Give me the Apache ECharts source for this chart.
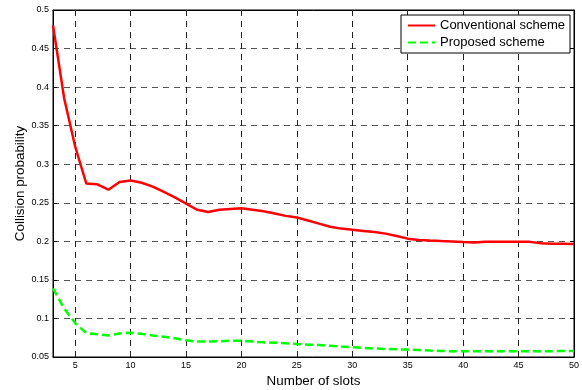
<!DOCTYPE html>
<html>
<head>
<meta charset="utf-8">
<script src="https://cdn.jsdelivr.net/npm/echarts@6/dist/echarts.min.js"></script>
<style>html,body{margin:0;padding:0;background:#fff}#c{width:582px;height:390px}</style>
</head>
<body>
<div id="c"></div>
<script>
const slots = [3,4,5,6,7,8,9,10,11,12,13,14,15,16,17,18,19,20,21,22,23,24,25,26,27,28,29,30,31,32,33,34,35,36,37,38,39,40,41,42,43,44,45,46,47,48,49,50];
const conventional = [0.480,0.386,0.323,0.275,0.274,0.267,0.277,0.279,0.276,0.271,0.264,0.257,0.249,0.241,0.238,0.241,0.242,0.243,0.241,0.239,0.236,0.233,0.231,0.227,0.223,0.219,0.2165,0.215,0.2135,0.212,0.210,0.207,0.2035,0.2018,0.201,0.2003,0.1997,0.199,0.1985,0.1995,0.1995,0.1995,0.1995,0.1993,0.1975,0.197,0.197,0.1965];
const proposed = [0.139,0.113,0.094,0.081,0.0795,0.078,0.0805,0.0815,0.080,0.078,0.0763,0.0744,0.0716,0.070,0.070,0.0705,0.071,0.071,0.070,0.069,0.0685,0.0677,0.067,0.066,0.0655,0.0645,0.0635,0.0626,0.0618,0.061,0.0605,0.060,0.0596,0.059,0.0583,0.0578,0.0575,0.0574,0.0574,0.0574,0.0574,0.0574,0.0574,0.0574,0.0575,0.0576,0.0577,0.0577];
const xTicks = [5,10,15,20,25,30,35,40,45,50];
const seriesNames = ['Conventional scheme','Proposed scheme'];
const xLabel = 'Number of slots';
const yLabel = 'Collision probability';

const font = 'Liberation Sans, Arial, sans-serif';
const chart = echarts.init(document.getElementById('c'), null, {renderer:'canvas'});
const hGridStyle = {color:'#555', type:[6,5], width:1};
const vGridStyle = {color:'#222', type:[6,5], width:1};
chart.setOption({
  animation:false,
  backgroundColor:'#fff',
  grid:{left:53, top:10, right:8, bottom:33, outerBoundsMode:'none', containLabel:false,
        show:true, borderColor:'#000', borderWidth:1, backgroundColor:'transparent'},
  legend:{
    orient:'vertical', left:401, top:15,
    data:seriesNames,
    itemWidth:27, itemHeight:14, itemGap:4,
    padding:[4,5,4,6],
    itemStyle:{opacity:0},
    borderColor:'#000', borderWidth:1, backgroundColor:'#fff',
    textStyle:{fontFamily:font, fontSize:13, color:'#000'}
  },
  xAxis:[{
    type:'value', min:3, max:50,
    name:xLabel, nameLocation:'middle', nameGap:18, nameMoveOverlap:false,
    nameTextStyle:{fontFamily:font, fontSize:13.4, color:'#000'},
    axisLine:{show:true, lineStyle:{color:'#000', width:1}},
    axisTick:{show:true, inside:true, length:4, lineStyle:{color:'#000'}, customValues:xTicks},
    axisLabel:{fontFamily:font, fontSize:9, color:'#000', margin:4, customValues:xTicks},
    splitLine:{show:false}
  },{
    type:'value', min:3, max:50, position:'top',
    axisLine:{show:true, lineStyle:{color:'#000', width:1}},
    axisTick:{show:true, inside:true, length:4, lineStyle:{color:'#000'}, customValues:xTicks},
    axisLabel:{show:false}, splitLine:{show:false}
  }],
  yAxis:[{
    type:'value', min:0.05, max:0.5, interval:0.05,
    name:yLabel, nameLocation:'middle', nameGap:26, nameMoveOverlap:false,
    nameTextStyle:{fontFamily:font, fontSize:13.4, color:'#000'},
    axisLine:{show:true, lineStyle:{color:'#000', width:1}},
    axisTick:{show:true, inside:true, length:4, lineStyle:{color:'#000'}},
    axisLabel:{fontFamily:font, fontSize:9, color:'#000', margin:4,
      formatter:v=>String(Math.round(v*100)/100)},
    splitLine:{show:true, lineStyle:hGridStyle}
  },{
    type:'value', min:0.05, max:0.5, interval:0.05, position:'right',
    axisLine:{show:true, lineStyle:{color:'#000', width:1}},
    axisTick:{show:true, inside:true, length:4, lineStyle:{color:'#000'}},
    axisLabel:{show:false}, splitLine:{show:false}
  }],
  series:[{
    name:seriesNames[0], type:'line', symbol:'none', smooth:false, z:3,
    data:slots.map((s,i)=>[s,conventional[i]]),
    lineStyle:{color:'#ff0000', width:2.5}, itemStyle:{color:'#ff0000'},
    markLine:{
      silent:true, symbol:['none','none'], label:{show:false},
      lineStyle:vGridStyle, z:1,
      data:xTicks.slice(0,-1).map(v=>({xAxis:v}))
    }
  },{
    name:seriesNames[1], type:'line', symbol:'none', smooth:false, z:3,
    data:slots.map((s,i)=>[s,proposed[i]]),
    lineStyle:{color:'#00ff00', width:2.5, type:[8,4]}, itemStyle:{color:'#00ff00'}
  }]
});
</script>
</body>
</html>
